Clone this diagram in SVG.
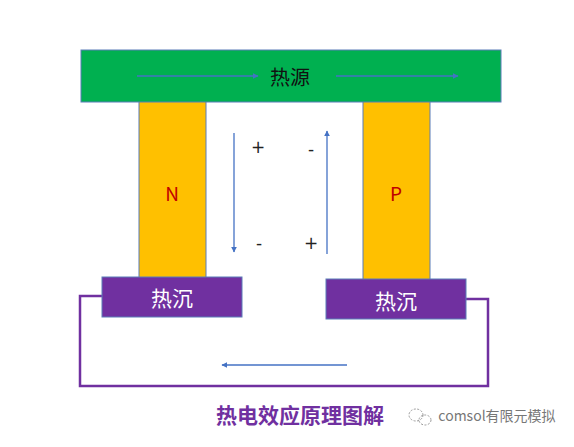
<svg xmlns="http://www.w3.org/2000/svg" width="574" height="447" viewBox="0 0 574 447">
<defs>
<style>
.box{stroke:#5B7DB8;stroke-width:1}
.t{font-family:"Noto Sans CJK SC","Liberation Sans",sans-serif;text-anchor:middle;dominant-baseline:central}
.arr{stroke:#4472C4;stroke-width:1.3;fill:none;marker-end:url(#ah)}
.sign{font-family:"DejaVu Sans",sans-serif;font-size:17px;fill:#222;text-anchor:middle;dominant-baseline:central}
</style>
<marker id="ah" viewBox="0 0 10 10" refX="9" refY="5" markerWidth="6" markerHeight="6" orient="auto" markerUnits="userSpaceOnUse">
<path d="M0,0 L10,5 L0,10 z" fill="#4472C4"/>
</marker>
</defs>
<rect width="574" height="447" fill="#fff"/>
<g id="wire">
<polyline points="102,296 80,296 80,386 488,386 488,299 466,299" fill="none" stroke="#7030A0" stroke-width="2.5"/>
</g>
<g id="n-leg">
<rect class="box" x="139" y="100" width="67" height="178" fill="#FFC000"/>
<text class="t" x="172" y="192" font-size="19" fill="#C00000">N</text>
</g>
<g id="p-leg">
<rect class="box" x="363" y="100" width="67" height="180" fill="#FFC000"/>
<text class="t" x="396" y="192" font-size="19" fill="#C00000">P</text>
</g>
<g id="heat-source">
<rect class="box" x="81" y="50" width="420" height="52" fill="#00B050"/>
<text class="t" x="290" y="76" font-size="20" fill="#111">热源</text>
</g>
<g id="sink-left">
<rect class="box" x="102" y="277" width="140" height="40" fill="#7030A0"/>
<text class="t" x="172" y="297" font-size="21" fill="#fff">热沉</text>
</g>
<g id="sink-right">
<rect class="box" x="326" y="279" width="140" height="40" fill="#7030A0"/>
<text class="t" x="396" y="300" font-size="21" fill="#fff">热沉</text>
</g>
<g id="connectors">
<line class="arr" x1="137" y1="76" x2="258" y2="76"/>
<line class="arr" x1="336" y1="76" x2="458" y2="76"/>
<line class="arr" x1="234" y1="133" x2="234" y2="252"/>
<line class="arr" x1="327" y1="254" x2="327" y2="131"/>
<line class="arr" x1="347" y1="365" x2="222" y2="365"/>
</g>
<g id="signs">
<text class="sign" x="258" y="147">+</text>
<text class="sign" x="311" y="149">-</text>
<text class="sign" x="259" y="243">-</text>
<text class="sign" x="311" y="243">+</text>
</g>
<g id="title">
<text class="t" x="300" y="414" font-size="21" font-weight="bold" fill="#7030A0">热电效应原理图解</text>
</g>
<g id="watermark">
<ellipse cx="416" cy="415" rx="7" ry="6" fill="none" stroke="#999" stroke-width="1" stroke-dasharray="2,1.5"/>
<ellipse cx="425" cy="420" rx="6" ry="5" fill="none" stroke="#999" stroke-width="1" stroke-dasharray="2,1.5"/>
<text class="t" x="497" y="415" font-size="14" fill="#777">comsol有限元模拟</text>
</g>
</svg>
